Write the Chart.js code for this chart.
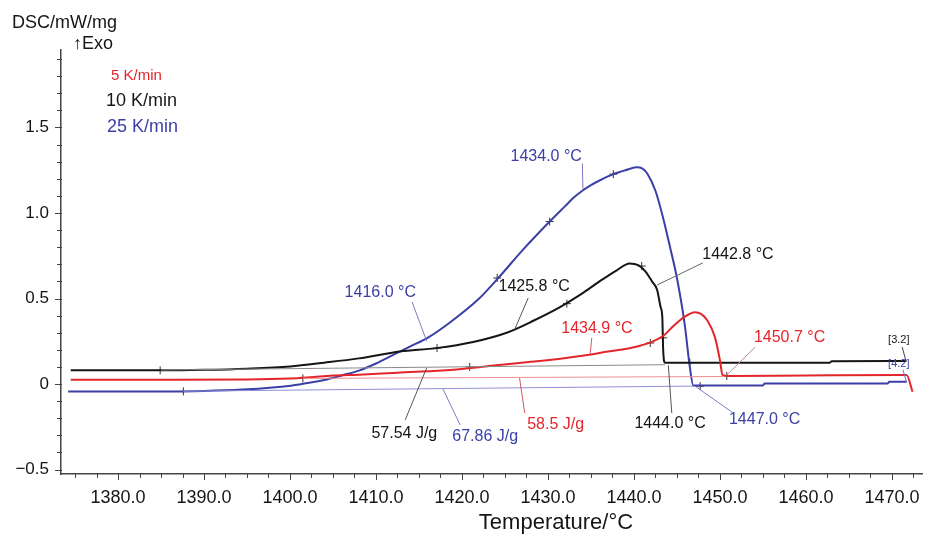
<!DOCTYPE html>
<html>
<head>
<meta charset="utf-8">
<script src="https://cdn.jsdelivr.net/npm/chart.js@4.4.1/dist/chart.umd.min.js"></script>
<style>
  body { margin: 0; background: #fff; }
</style>
</head>
<body>
<canvas id="myChart" width="933" height="536"></canvas>
<script>
// DSC curves (temperature in °C, DSC in mW/mg)
const tempBlack = [1374.5, 1385, 1390, 1395, 1400, 1404, 1408, 1412.8, 1417, 1421.3, 1425.2, 1428.3, 1431.4, 1434, 1436, 1438, 1439.5, 1440.5, 1441.3, 1442.1, 1442.7, 1443.1, 1443.3, 1443.4, 1443.6, 1450, 1462.8, 1463, 1471.7];
const dscBlack  = [0.08, 0.08, 0.083, 0.09, 0.103, 0.125, 0.15, 0.19, 0.21, 0.246, 0.30, 0.37, 0.45, 0.53, 0.60, 0.665, 0.705, 0.695, 0.66, 0.60, 0.55, 0.45, 0.39, 0.2, 0.125, 0.124, 0.125, 0.133, 0.135];

const tempBlue = [1374.2, 1385, 1390, 1394.5, 1398, 1400.3, 1402, 1404.3, 1406, 1408.1, 1410, 1412, 1414, 1416, 1418.6, 1422, 1424.4, 1427, 1430.2, 1432, 1433, 1434, 1435, 1436, 1437.6, 1439, 1440.3, 1441, 1441.6, 1442.5, 1443.4, 1444.2, 1445, 1445.9, 1446.5, 1446.9, 1455, 1455.2, 1469.5, 1469.7, 1471.7];
const dscBlue  = [-0.043, -0.043, -0.04, -0.032, -0.02, -0.008, 0.006, 0.027, 0.05, 0.08, 0.12, 0.17, 0.22, 0.27, 0.36, 0.5, 0.63, 0.78, 0.95, 1.04, 1.09, 1.13, 1.163, 1.19, 1.227, 1.25, 1.267, 1.26, 1.227, 1.13, 0.97, 0.8, 0.62, 0.35, 0.10, -0.008, -0.008, 0.003, 0.003, 0.013, 0.013];

const tempRed = [1374.5, 1385, 1395, 1400, 1402.3, 1405, 1408, 1412, 1416, 1420, 1424, 1428, 1431, 1434, 1437, 1440, 1442, 1443.5, 1444.5, 1445.8, 1447.1, 1447.8, 1448.5, 1449.4, 1450, 1450.3, 1451, 1460, 1471.7, 1472.4];
const dscRed  = [0.025, 0.025, 0.027, 0.033, 0.04, 0.05, 0.055, 0.065, 0.075, 0.088, 0.11, 0.13, 0.145, 0.165, 0.19, 0.215, 0.245, 0.285, 0.335, 0.39, 0.42, 0.41, 0.374, 0.277, 0.14, 0.053, 0.047, 0.05, 0.053, -0.045];

// integration baselines
const baseTempBlack = [1385, 1443.6], baseDscBlack = [0.082, 0.113];
const baseTempRed   = [1401.5, 1450.5], baseDscRed = [0.033, 0.044];
const baseTempBlue  = [1387.6, 1446.9], baseDscBlue = [-0.042, -0.012];

// small "+" marks on the curves
const markTempBlack = [1384.9, 1417.1, 1432.2, 1440.9, 1443.4, 1446.5];
const markDscBlack  = [0.08, 0.21, 0.47, 0.69, 0.27, 0.125];
const markTempBlue  = [1387.6, 1424.1, 1430.2, 1437.6, 1447.7];
const markDscBlue   = [-0.043, 0.62, 0.95, 1.227, -0.012];
const markTempRed   = [1401.5, 1420.9, 1441.9, 1450.8];
const markDscRed    = [0.033, 0.10, 0.24, 0.047];

const xTicks = [1380, 1390, 1400, 1410, 1420, 1430, 1440, 1450, 1460, 1470];
const yTicks = [-0.5, 0, 0.5, 1.0, 1.5];
const yTickLabels = ['\u22120.5', '0', '0.5', '1.0', '1.5'];

const rates = ['5 K/min', '10 K/min', '25 K/min'];

const BLACK = '#151515', BLUE = '#3b3fa6', RED = '#e3262b';
const FONT = '"Liberation Sans", Arial, Helvetica, sans-serif';

// labels with leader lines: text centre (tx,ty) and line (x1,y1)-(x2,y2), in data units
const notes = [
  { text: '1434.0 \u00b0C', color: BLUE, line: '#7b7cc6', tx: 1429.8, ty: 1.33, x1: 1434.0, y1: 1.29, x2: 1434.07, y2: 1.14 },
  { text: '1416.0 \u00b0C', color: BLUE, line: '#7b7cc6', tx: 1410.5, ty: 0.532, x1: 1414.2, y1: 0.48, x2: 1415.9, y2: 0.25 },
  { text: '1425.8 \u00b0C', color: BLACK, line: '#555', tx: 1428.4, ty: 0.567, x1: 1427.7, y1: 0.503, x2: 1426.2, y2: 0.327 },
  { text: '1442.8 \u00b0C', color: BLACK, line: '#666', tx: 1452.1, ty: 0.754, x1: 1448.0, y1: 0.708, x2: 1442.7, y2: 0.579 },
  { text: '1434.9 \u00b0C', color: RED, line: '#d0595c', tx: 1435.7, ty: 0.327, x1: 1435.1, y1: 0.27, x2: 1434.9, y2: 0.172 },
  { text: '1450.7 \u00b0C', color: RED, line: '#b98a8a', tx: 1458.1, ty: 0.27, x1: 1454.1, y1: 0.216, x2: 1450.8, y2: 0.053 },
  { text: '[3.2]', color: BLACK, line: '#444', size: 11, tx: 1470.8, ty: 0.257, x1: 1471.2, y1: 0.216, x2: 1471.6, y2: 0.14 },
  { text: '[4.2]', color: BLUE, line: '#6e70c0', size: 11, tx: 1470.8, ty: 0.117, x1: 1471.3, y1: 0.082, x2: 1471.7, y2: 0.01 },
  { text: '57.54 J/g', color: BLACK, line: '#555', tx: 1413.3, ty: -0.29, x1: 1413.4, y1: -0.21, x2: 1415.9, y2: 0.095 },
  { text: '67.86 J/g', color: BLUE, line: '#7b7cc6', tx: 1422.7, ty: -0.31, x1: 1419.8, y1: -0.24, x2: 1417.8, y2: -0.03 },
  { text: '58.5 J/g', color: RED, line: '#d0595c', tx: 1430.9, ty: -0.24, x1: 1427.3, y1: -0.17, x2: 1426.7, y2: 0.035 },
  { text: '1444.0 \u00b0C', color: BLACK, line: '#555', tx: 1444.2, ty: -0.234, x1: 1444.4, y1: -0.17, x2: 1444.0, y2: 0.11 },
  { text: '1447.0 \u00b0C', color: BLUE, line: '#7b7cc6', tx: 1455.2, ty: -0.21, x1: 1451.4, y1: -0.164, x2: 1447.1, y2: -0.012 }
];

function pts(xs, ys) {
  return xs.map((x, i) => ({ x: x, y: ys[i] }));
}

function curve(xs, ys, color, width, smooth) {
  return { data: pts(xs, ys), borderColor: color, borderWidth: width, pointRadius: 0, showLine: true,
           cubicInterpolationMode: smooth ? 'monotone' : 'default', tension: smooth ? 0.4 : 0 };
}

function marks(xs, ys, color) {
  return { data: pts(xs, ys), borderColor: color, backgroundColor: color, showLine: false,
           pointStyle: 'cross', pointRadius: 4, borderWidth: 1 };
}

const extras = {
  id: 'extras',
  afterDraw(chart) {
    const ctx = chart.ctx;
    const xs = chart.scales.x, ys = chart.scales.y, area = chart.chartArea;
    ctx.save();

    // tick marks
    ctx.strokeStyle = '#444';
    ctx.lineWidth = 1;
    for (let v = 1375; v <= 1472.5; v += 2.5) {
      let px = Math.round(xs.getPixelForValue(v)) + 0.5;
      let len = (v % 10 === 0) ? 6 : 4;
      ctx.beginPath();
      ctx.moveTo(px, area.bottom);
      ctx.lineTo(px, area.bottom + len);
      ctx.stroke();
    }
    for (let i = -5; i <= 19; i++) {
      let py = Math.round(ys.getPixelForValue(i / 10)) + 0.5;
      let len = (i % 5 === 0) ? 6 : 4;
      ctx.beginPath();
      ctx.moveTo(area.left - len, py);
      ctx.lineTo(area.left + 1, py);
      ctx.stroke();
    }

    // leader lines and notes
    ctx.textAlign = 'center';
    ctx.textBaseline = 'middle';
    notes.forEach(n => {
      ctx.strokeStyle = n.line;
      ctx.lineWidth = 1;
      ctx.beginPath();
      ctx.moveTo(xs.getPixelForValue(n.x1), ys.getPixelForValue(n.y1));
      ctx.lineTo(xs.getPixelForValue(n.x2), ys.getPixelForValue(n.y2));
      ctx.stroke();
      ctx.fillStyle = n.color;
      ctx.font = (n.size || 16) + 'px ' + FONT;
      ctx.fillText(n.text, xs.getPixelForValue(n.tx), ys.getPixelForValue(n.ty));
    });

    // heating rates
    ctx.textAlign = 'left';
    ctx.font = '15px ' + FONT;
    ctx.fillStyle = RED;
    ctx.fillText(rates[0], 111, 76);
    ctx.font = '18px ' + FONT;
    ctx.fillStyle = BLACK;
    ctx.fillText(rates[1], 106, 101);
    ctx.fillStyle = BLUE;
    ctx.fillText(rates[2], 107, 127);

    // axis titles
    ctx.fillStyle = BLACK;
    ctx.font = '18px ' + FONT;
    ctx.fillText('DSC/mW/mg', 12, 23);
    ctx.fillText('\u2191Exo', 73, 44);
    ctx.textAlign = 'center';
    ctx.font = '22px ' + FONT;
    ctx.fillText('Temperature/\u00b0C', 556, 523);

    ctx.restore();
  }
};

let chart = new Chart(document.getElementById('myChart').getContext('2d'), {
  type: 'scatter',
  data: {
    datasets: [
      curve(baseTempBlack, baseDscBlack, '#8a8a8a', 1, false),
      curve(baseTempRed, baseDscRed, '#ec8f90', 1, false),
      curve(baseTempBlue, baseDscBlue, '#8d8fd6', 1, false),
      curve(tempRed, dscRed, RED, 2, true),
      curve(tempBlack, dscBlack, BLACK, 2, true),
      curve(tempBlue, dscBlue, BLUE, 2, true),
      marks(markTempBlack, markDscBlack, '#333'),
      marks(markTempBlue, markDscBlue, '#333'),
      marks(markTempRed, markDscRed, '#333')
    ]
  },
  options: {
    responsive: false,
    animation: false,
    layout: { padding: { top: 50, right: 11, left: 0, bottom: 0 } },
    plugins: { legend: { display: false }, tooltip: { enabled: false } },
    scales: {
      x: {
        type: 'linear',
        min: 1373.37,
        max: 1473.5,
        grid: { display: false, drawTicks: false },
        border: { display: true, color: '#444', width: 1.5 },
        afterBuildTicks: s => { s.ticks = xTicks.map(v => ({ value: v })); },
        afterFit: s => { s.height = 62; },
        ticks: {
          padding: 13,
          color: BLACK,
          font: { family: FONT, size: 18 },
          maxRotation: 0,
          callback: v => v.toFixed(1)
        }
      },
      y: {
        type: 'linear',
        min: -0.526,
        max: 1.953,
        grid: { display: false, drawTicks: false },
        border: { display: true, color: '#444', width: 1.5 },
        afterBuildTicks: s => { s.ticks = yTicks.map(v => ({ value: v })); },
        afterFit: s => { s.width = 61; },
        ticks: {
          padding: 12,
          color: BLACK,
          font: { family: FONT, size: 17 },
          callback: v => yTickLabels[yTicks.indexOf(v)]
        }
      }
    }
  },
  plugins: [extras]
});
</script>
</body>
</html>
